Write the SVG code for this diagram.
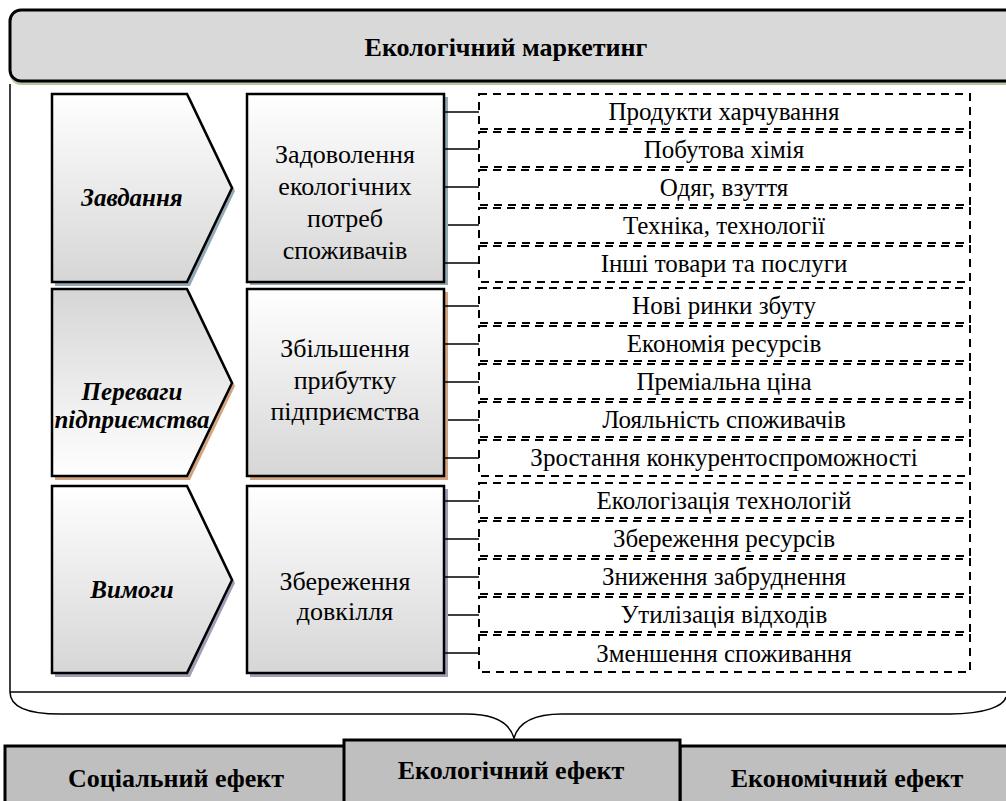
<svg xmlns="http://www.w3.org/2000/svg" width="1006" height="801" viewBox="0 0 1006 801">
<defs>
<linearGradient id="gWG" x1="0" y1="0" x2="0" y2="1"><stop offset="0" stop-color="#ffffff"/><stop offset="1" stop-color="#d6d6d6"/></linearGradient>
<linearGradient id="gGW" x1="0" y1="0" x2="0" y2="1"><stop offset="0" stop-color="#d6d6d6"/><stop offset="1" stop-color="#ffffff"/></linearGradient>
</defs>
<style>
.box{stroke:#000;stroke-width:2.5}
.dash{fill:#fff;stroke:#000;stroke-width:2;stroke-dasharray:8 6}
.conn{stroke:#000;stroke-width:1.5;fill:none}
.t{font-family:"Liberation Serif","Times New Roman",serif;fill:#000;text-anchor:middle}
.hb{font-size:26px;font-weight:bold}
.ch{font-size:25px;font-weight:bold;font-style:italic}
.rt{font-size:26px}
.dt{font-size:25px}
.sh1{fill:#93a9b5}
.sh2{fill:#d3a47f}
.sh3{fill:#a29cb5}
.bot{fill:#bfbfbf;stroke:#000;stroke-width:3}
</style>
<rect width="1006" height="801" fill="#fff"/>

<g id="title">
<rect x="10" y="14" width="1010" height="71" rx="11" fill="#b8c6a2"/>
<rect x="10" y="10" width="1010" height="71" rx="11" fill="#d9d9d9" stroke="#000" stroke-width="3"/>
<text class="t hb" x="506" y="56">Екологічний маркетинг</text>
</g>

<g id="frame" fill="none" stroke="#000" stroke-width="1.5">
<line x1="10" y1="84" x2="10" y2="692"/>
<line x1="10" y1="692" x2="1006" y2="692"/>
<path d="M10,692 C10,708 30,714 60,714 L466,714 C496,714 510,724 514,738 C518,724 532,714 562,714 L950,714 C985,714 1004,706 1006,697"/>
</g>

<g id="row1-chevron">
<polygon class="sh1" points="55,97 190,97 235,191 190,286 55,286"/>
<polygon class="box" fill="url(#gWG)" points="52,94 187,94 232,188 187,282 52,282"/>
<text class="t ch" x="132" y="206">Завдання</text>
</g>
<g id="row1-box">
<rect class="sh1" x="250" y="97" width="198" height="188"/>
<rect class="box" fill="url(#gWG)" x="247" y="94" width="197" height="188"/>
<text class="t rt" x="345" y="163">Задоволення</text>
<text class="t rt" x="345" y="195">екологічних</text>
<text class="t rt" x="345" y="227">потреб</text>
<text class="t rt" x="345" y="259">споживачів</text>
</g>

<g id="row2-chevron">
<polygon class="sh2" points="55,292 190,292 235,386 190,480 55,480"/>
<polygon class="box" fill="url(#gGW)" points="52,289 187,289 232,383 187,476 52,476"/>
<text class="t ch" x="132" y="400">Переваги</text>
<text class="t ch" x="132" y="428">підприємства</text>
</g>
<g id="row2-box">
<rect class="sh2" x="250" y="292" width="198" height="188"/>
<rect class="box" fill="url(#gWG)" x="247" y="289" width="197" height="187"/>
<text class="t rt" x="345" y="357">Збільшення</text>
<text class="t rt" x="345" y="389">прибутку</text>
<text class="t rt" x="345" y="420">підприємства</text>
</g>

<g id="row3-chevron">
<polygon class="sh3" points="55,489 190,489 235,583 190,677 55,677"/>
<polygon class="box" fill="url(#gWG)" points="52,486 187,486 232,580 187,673 52,673"/>
<text class="t ch" x="132" y="598">Вимоги</text>
</g>
<g id="row3-box">
<rect class="sh3" x="250" y="489" width="198" height="188"/>
<rect class="box" fill="url(#gWG)" x="247" y="486" width="197" height="187"/>
<text class="t rt" x="345" y="590">Збереження</text>
<text class="t rt" x="345" y="620">довкілля</text>
</g>

<g id="items">
<g id="i1"><rect class="dash" x="479" y="94" width="491" height="35"/><text class="t dt" x="724" y="120">Продукти харчування</text></g>
<g id="i2"><rect class="dash" x="479" y="132" width="491" height="35"/><text class="t dt" x="724" y="158">Побутова хімія</text></g>
<g id="i3"><rect class="dash" x="479" y="170" width="491" height="35"/><text class="t dt" x="724" y="196">Одяг, взуття</text></g>
<g id="i4"><rect class="dash" x="479" y="208" width="491" height="35"/><text class="t dt" x="724" y="234">Техніка, технології</text></g>
<g id="i5"><rect class="dash" x="479" y="246" width="491" height="36"/><text class="t dt" x="724" y="272">Інші товари та послуги</text></g>

<g id="i6"><rect class="dash" x="479" y="288" width="491" height="35"/><text class="t dt" x="724" y="314">Нові ринки збуту</text></g>
<g id="i7"><rect class="dash" x="479" y="326" width="491" height="35"/><text class="t dt" x="724" y="352">Економія ресурсів</text></g>
<g id="i8"><rect class="dash" x="479" y="364" width="491" height="35"/><text class="t dt" x="724" y="390">Преміальна ціна</text></g>
<g id="i9"><rect class="dash" x="479" y="402" width="491" height="35"/><text class="t dt" x="724" y="428">Лояльність споживачів</text></g>
<g id="i10"><rect class="dash" x="479" y="440" width="491" height="36"/><text class="t dt" x="724" y="466">Зростання конкурентоспроможності</text></g>

<g id="i11"><rect class="dash" x="479" y="483" width="491" height="35"/><text class="t dt" x="724" y="509">Екологізація технологій</text></g>
<g id="i12"><rect class="dash" x="479" y="521" width="491" height="35"/><text class="t dt" x="724" y="547">Збереження ресурсів</text></g>
<g id="i13"><rect class="dash" x="479" y="559" width="491" height="35"/><text class="t dt" x="724" y="585">Зниження забруднення</text></g>
<g id="i14"><rect class="dash" x="479" y="597" width="491" height="35"/><text class="t dt" x="724" y="623">Утилізація відходів</text></g>
<g id="i15"><rect class="dash" x="479" y="635" width="491" height="37"/><text class="t dt" x="724" y="662">Зменшення споживання</text></g>
</g>

<g id="connectors" class="conn">
<path d="M444,112 H479 M444,149 H479 M444,187 H479 M448,225 H479 M444,263 H479"/>
<path d="M444,306 H479 M444,344 H479 M444,382 H479 M448,420 H479 M444,458 H479"/>
<path d="M444,501 H479 M444,539 H479 M444,577 H479 M448,615 H479 M444,653 H479"/>
</g>

<g id="social">
<rect class="bot" x="5" y="746" width="340" height="60"/>
<text class="t hb" x="176" y="787">Соціальний ефект</text>
</g>
<g id="economic">
<rect class="bot" x="680" y="746" width="340" height="60"/>
<text class="t hb" x="847" y="787">Економічний ефект</text>
</g>
<g id="ecological">
<rect class="bot" x="344" y="740" width="336" height="66"/>
<text class="t hb" x="511" y="779">Екологічний ефект</text>
</g>
</svg>
